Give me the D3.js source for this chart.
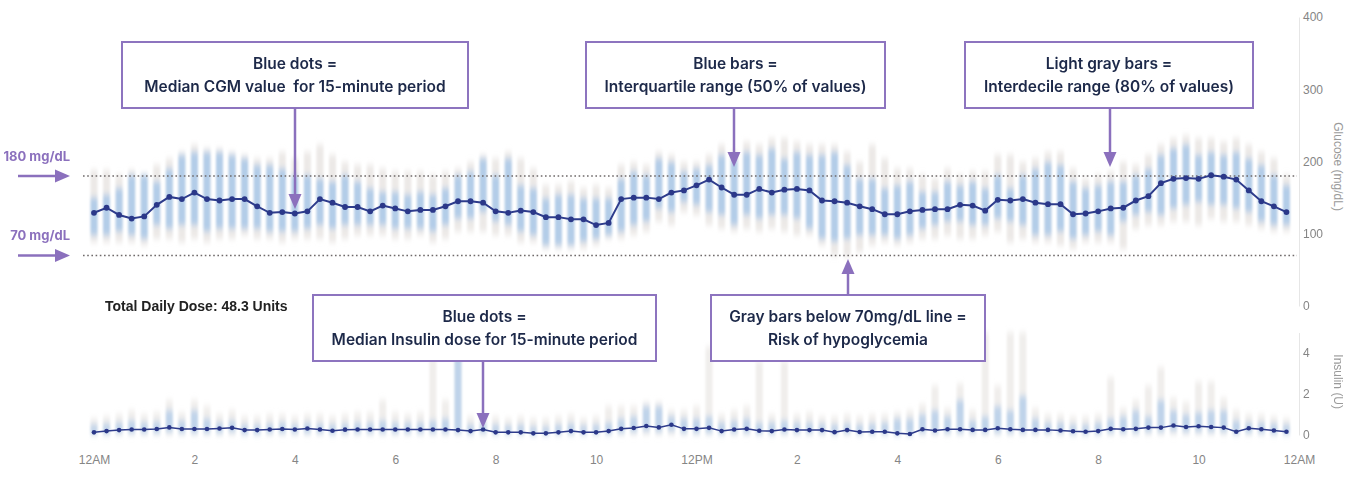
<!DOCTYPE html>
<html lang="en">
<head>
<meta charset="UTF-8">
<title>Ambulatory Glucose Profile</title>
<script src="https://d3js.org/d3.v7.min.js"></script>
<style>
    body {
    margin: 0;
    background-color: white;
    }
    .tick text {
    font-family: "Liberation Sans", Arial, sans-serif;
    font-size: 12px;
    fill: #858585;
    }
    .axis-title {
    font-family: "Liberation Sans", Arial, sans-serif;
    font-size: 12px;
    fill: #9a9a9a;
    }
    .note {
    font-family: Inter, "Noto Sans", sans-serif;
    font-size: 15.5px;
    font-weight: 600;
    fill: #1d2949;
    white-space: pre;
    }
    .side-label {
    font-family: Inter, "Noto Sans", sans-serif;
    font-size: 13px;
    font-weight: 700;
    fill: #8b70bd;
    }
    .dose {
    font-family: "Liberation Sans", Arial, sans-serif;
    font-size: 14px;
    font-weight: bold;
    fill: #222;
    }
</style>
</head>
<body>
<svg id="agp" width="1349" height="490"></svg>
<script>
    const width = 1349;
    const height = 490;

    // 96 fifteen-minute periods of the day
    const periods = d3.range(96).map(i => i / 4);

    const xTicks = [0, 2, 4, 6, 8, 10, 12, 14, 16, 18, 20, 22, 24];
    const xTickLabels = ["12AM", "2", "4", "6", "8", "10", "12PM", "2", "4", "6", "8", "10", "12AM"];
    const glucoseTicks = [0, 100, 200, 300, 400];
    const insulinTicks = [0, 2, 4];
    const targetLines = [180, 70];

    // glucose (mg/dL)
    const glucoseMedian = [129,136,126,121,124,140,151,148,157,148, 146,148,148,138,129,130,128,131,148,143,
      137,137,131,139,135,131,133,133,138,145, 145,143,131,129,132,130,123,123,120,120,
      112,115,148,150,150,148,157,160,167,175, 164,154,154,162,157,161,162,160,146,145,
      143,138,134,127,127,131,133,134,134,140, 139,132,147,146,148,143,141,141,127,128,
      131,135,136,146,152,170,176,177,176,181, 179,175,160,145,138,130];
    const glucoseQ75 = [150,154,163,181,181,172,190,209,213,213, 213,209,204,195,195,190,181,181,176,172,
      181,172,163,158,158,154,158,154,163,181, 186,204,181,204,167,163,149,154,154,149,
      149,149,176,186,181,204,199,186,190,195, 209,204,213,209,218,204,213,209,209,213,
      195,176,176,163,167,172,158,158,172,167, 172,163,181,163,181,190,199,195,172,163,
      167,172,172,181,190,209,218,223,209,213, 209,213,204,195,181,167];
    const glucoseQ25 = [98,98,103,98,93,112,107,112,112,103, 107,107,107,107,103,103,103,107,112,107,
      112,112,112,112,107,107,107,103,112,121, 121,130,117,112,103,98,84,84,84,89,
      93,98,103,112,117,135,130,144,140,130, 126,112,126,121,126,126,121,107,93,89,
      93,98,98,98,93,98,107,112,117,117, 112,112,121,117,112,98,98,103,93,98,
      103,98,117,126,130,126,135,140,144,140, 140,135,130,117,112,112];
    const glucoseP90 = [188,188,181,188,183,195,204,213,223,218, 218,213,209,204,204,213,204,213,223,209,
      199,195,195,190,186,186,186,181,186,190, 199,209,204,213,204,190,167,167,172,163,
      167,163,195,199,195,213,209,199,199,209, 223,213,227,223,232,232,227,223,223,223,
      213,199,223,204,190,190,181,176,190,181, 186,186,209,209,199,204,213,213,190,176,
      181,186,199,195,209,223,232,236,232,232, 227,232,223,213,204,181];
    const glucoseP10 = [88,88,88,88,84,93,93,88,93,88, 93,93,98,93,93,88,93,93,93,88,
      93,98,98,98,93,93,98,88,93,103, 103,103,98,98,88,88,79,79,79,79,
      84,93,93,98,103,117,112,130,126,112, 107,103,107,103,107,103,98,98,84,70,
      68,75,84,88,84,88,93,93,98,93, 93,98,103,88,93,88,88,84,79,88,
      88,88,79,107,112,112,117,117,112,121, 117,117,112,107,103,103];

    // insulin (U)
    const insulinMedian = [0.13,0.19,0.24,0.27,0.27,0.29,0.37,0.29,0.29,0.29, 0.32,0.35,0.24,0.24,0.27,0.29,0.27,0.32,0.27,0.21,
      0.26,0.27,0.27,0.27,0.27,0.27,0.27,0.27,0.27,0.24, 0.19,0.27,0.13,0.13,0.13,0.08,0.08,0.13,0.19,0.13,
      0.13,0.19,0.30,0.34,0.44,0.37,0.50,0.30,0.30,0.35, 0.19,0.27,0.30,0.21,0.19,0.27,0.24,0.24,0.24,0.14,
      0.24,0.15,0.16,0.16,0.08,0.05,0.28,0.22,0.28,0.28, 0.25,0.25,0.33,0.28,0.25,0.25,0.25,0.22,0.18,0.16,
      0.19,0.30,0.28,0.30,0.36,0.36,0.46,0.39,0.43,0.39, 0.36,0.16,0.33,0.28,0.22,0.16];
    const insulinQ75 = [0.5,0.55,0.6,0.7,0.6,0.65,1.2,0.7,1.2,0.8, 0.6,0.7,0.5,0.5,0.55,0.6,0.5,0.6,0.55,0.5,
      0.55,0.6,0.6,0.7,0.6,0.6,0.6,0.7,0.8,4.2, 0.5,0.6,0.5,0.45,0.5,0.4,0.4,0.5,0.55,0.45,
      0.5,0.6,0.8,0.9,1.4,1.4,0.9,0.8,0.8,0.9, 0.6,0.7,0.8,0.6,0.6,0.7,0.6,0.6,0.55,0.5,
      0.55,0.5,0.55,0.6,0.8,0.8,1.0,1.2,0.9,1.7, 0.7,0.9,1.4,1.2,1.9,0.8,0.6,0.6,0.5,0.5,
      0.6,0.8,0.9,1.2,0.9,1.7,1.2,1.0,1.1,1.2, 1.2,0.7,0.6,0.6,0.55,0.5];
    const insulinQ25 = [0.05,0.05,0.1,0.1,0.1,0.1,0.15,0.1,0.1,0.1, 0.1,0.15,0.05,0.05,0.1,0.1,0.1,0.1,0.1,0.05,
      0.1,0.1,0.1,0.1,0.1,0.1,0.1,0.1,0.1,0.1, 0.05,0.1,0.05,0.05,0.05,0,0,0.05,0.05,0.05,
      0.05,0.05,0.1,0.15,0.2,0.15,0.2,0.1,0.1,0.1, 0.05,0.1,0.1,0.05,0.05,0.1,0.1,0.1,0.1,0.05,
      0.1,0.05,0.05,0.05,0,0,0.1,0.1,0.1,0.1, 0.1,0.1,0.1,0.1,0.1,0.1,0.1,0.1,0.05,0.05,
      0.05,0.1,0.1,0.1,0.15,0.15,0.2,0.15,0.15,0.15, 0.15,0.05,0.1,0.1,0.05,0.05];
    const insulinP90 = [0.8,0.9,1.0,1.2,1.0,1.1,1.7,1.1,1.7,1.4, 1.0,1.2,0.9,0.9,1.0,1.0,0.9,1.0,1.0,0.9,
      1.0,1.1,1.1,1.7,1.1,1.0,1.1,3.8,1.7,5.0, 0.9,1.0,0.9,0.8,0.9,0.8,0.8,0.9,1.0,0.8,
      0.9,1.4,1.4,1.4,1.6,1.6,1.2,1.2,1.4,4.3, 1.0,1.2,1.4,3.6,1.0,3.6,1.0,1.1,0.9,0.9,
      1.0,0.9,1.0,1.0,1.1,1.2,1.5,2.4,1.3,2.5, 1.2,5.0,2.4,5.0,5.0,1.3,1.0,1.0,0.9,0.9,
      1.0,2.8,1.3,1.7,2.4,3.3,1.8,1.6,2.6,2.6, 1.8,1.2,1.0,1.0,0.9,0.8];
    const insulinP10 = [0,0,0,0,0,0,0,0,0,0, 0,0,0,0,0,0,0,0,0,0,
      0,0,0,0,0,0,0,0,0,0, 0,0,0,0,0,0,0,0,0,0,
      0,0,0,0,0,0,0,0,0,0, 0,0,0,0,0,0,0,0,0,0,
      0,0,0,0,0,0,0,0,0,0, 0,0,0,0,0,0,0,0,0,0,
      0,0,0,0,0,0,0,0,0,0, 0,0,0,0,0,0];

    const totalDose = "Total Daily Dose: 48.3 Units";

    const notes = [
      {x: 122, y: 42, w: 346, h: 66, lines: ["Blue dots =", "Median CGM value  for 15-minute period"], ax: 295, ay0: 108, ay1: 209},
      {x: 586, y: 42, w: 299, h: 66, lines: ["Blue bars =", "Interquartile range (50% of values)"], ax: 734, ay0: 108, ay1: 167},
      {x: 965, y: 42, w: 288, h: 66, lines: ["Light gray bars =", "Interdecile range (80% of values)"], ax: 1110, ay0: 108, ay1: 167},
      {x: 313, y: 295, w: 343, h: 66, lines: ["Blue dots =", "Median Insulin dose for 15-minute period"], ax: 483, ay0: 361, ay1: 428},
      {x: 711, y: 295, w: 274, h: 66, lines: ["Gray bars below 70mg/dL line =", "Risk of hypoglycemia"], ax: 848, ay0: 295, ay1: 259}
    ];

    const svg = d3.select("#agp")
                .attr("width", width)
                .attr("height", height);

    const x = d3.scaleLinear().domain([0, 24]).range([94, 1299]);
    const yG = d3.scaleLinear().domain([0, 400]).range([306, 17]);
    const yI = d3.scaleLinear().domain([0, 5]).range([435, 332.5]);

    const defs = svg.append("defs");
    defs.append("filter").attr("id", "soft")
      .attr("x", "-50%").attr("y", "-50%").attr("width", "200%").attr("height", "200%")
      .append("feGaussianBlur").attr("stdDeviation", "1.1 3");

    const barW = 7;

    // Draw percentile bars for one panel
    function drawBars(y, lo10, hi90, lo25, hi75, grayOpacity, blueOpacity) {
      const top = v => y(Math.min(v, y.domain()[1]));
      const g = svg.append("g").attr("filter", "url(#soft)");
      g.selectAll(".decile")
        .data(periods)
        .enter()
        .append("rect")
        .attr("x", d => x(d) - barW / 2)
        .attr("y", (d, i) => top(hi90[i]))
        .attr("width", barW)
        .attr("height", (d, i) => y(lo10[i]) - top(hi90[i]))
        .attr("fill", "#e6e2df")
        .attr("opacity", grayOpacity);
      g.selectAll(".iqr")
        .data(periods)
        .enter()
        .append("rect")
        .attr("x", d => x(d) - barW / 2)
        .attr("y", (d, i) => top(hi75[i]))
        .attr("width", barW)
        .attr("height", (d, i) => y(lo25[i]) - top(hi75[i]))
        .attr("fill", "#a5c5e8")
        .attr("opacity", blueOpacity);
    }

    function drawMedian(y, values, r, w) {
      svg.append("path")
        .datum(values)
        .attr("fill", "none")
        .attr("stroke", "#2e3c8c")
        .attr("stroke-width", w)
        .attr("d", d3.line().x((d, i) => x(periods[i])).y(d => y(d)));
      svg.append("g").selectAll("circle")
        .data(values)
        .enter()
        .append("circle")
        .attr("cx", (d, i) => x(periods[i]))
        .attr("cy", d => y(d))
        .attr("r", r)
        .attr("fill", "#2b3889");
    }

    drawBars(yG, glucoseP10, glucoseP90, glucoseQ25, glucoseQ75, 0.75, 0.8);
    drawBars(yI, insulinP10, insulinP90, insulinQ25, insulinQ75, 0.6, 0.65);

    // target range lines
    svg.selectAll(".target")
      .data(targetLines)
      .enter()
      .append("line")
      .attr("x1", 83)
      .attr("x2", 1297)
      .attr("y1", d => yG(d))
      .attr("y2", d => yG(d))
      .attr("stroke", "#6f6a6a")
      .attr("stroke-width", 1.6)
      .attr("stroke-dasharray", "1.6,2.6");

    drawMedian(yG, glucoseMedian, 2.9, 2);
    drawMedian(yI, insulinMedian, 2.3, 1.5);

    // Axes
    const gAxis = svg.append("g")
      .attr("transform", `translate(${x(24)},0)`)
      .call(d3.axisRight(yG).tickValues(glucoseTicks).tickSize(0).tickPadding(4));
    const iAxis = svg.append("g")
      .attr("transform", `translate(${x(24)},0)`)
      .call(d3.axisRight(yI).tickValues(insulinTicks).tickFormat(d3.format("d")).tickSize(0).tickPadding(4));
    [gAxis, iAxis].forEach(a => {
      a.select(".domain").attr("stroke", "#e6e6e6");
      a.selectAll(".tick text").attr("font-family", null).attr("font-size", null).attr("fill", null);
    });

    const xAxis = svg.append("g")
      .attr("transform", "translate(0,455)")
      .call(d3.axisBottom(x).tickValues(xTicks).tickFormat((d, i) => xTickLabels[i]).tickSize(0).tickPadding(0));
    xAxis.select(".domain").remove();
    xAxis.selectAll(".tick text").attr("font-family", null).attr("font-size", null).attr("fill", null);

    svg.append("text")
      .attr("class", "axis-title")
      .attr("transform", `translate(1334,${yG(193)}) rotate(90)`)
      .attr("text-anchor", "middle")
      .text("Glucose (mg/dL)");
    svg.append("text")
      .attr("class", "axis-title")
      .attr("transform", `translate(1334,${yI(2.6)}) rotate(90)`)
      .attr("text-anchor", "middle")
      .text("Insulin (U)");

    svg.append("text")
      .attr("class", "dose")
      .attr("x", 105)
      .attr("y", 311)
      .text(totalDose);

    // Left-hand target labels with arrows
    const arrowColor = "#8b70bd";
    targetLines.forEach(v => {
      const yy = yG(v);
      svg.append("text")
        .attr("class", "side-label")
        .attr("x", 70)
        .attr("y", yy - 15)
        .attr("text-anchor", "end")
        .text(v + " mg/dL");
      svg.append("line")
        .attr("x1", 18).attr("x2", 58)
        .attr("y1", yy).attr("y2", yy)
        .attr("stroke", arrowColor).attr("stroke-width", 2.5);
      svg.append("path")
        .attr("d", `M70,${yy}L55,${yy - 6.5}L55,${yy + 6.5}Z`)
        .attr("fill", arrowColor);
    });

    // Annotation boxes
    notes.forEach(n => {
      svg.append("rect")
        .attr("x", n.x).attr("y", n.y)
        .attr("width", n.w).attr("height", n.h)
        .attr("fill", "white")
        .attr("stroke", "#8d74bf")
        .attr("stroke-width", 2);
      n.lines.forEach((t, j) => {
        svg.append("text")
          .attr("class", "note")
          .attr("x", n.x + n.w / 2)
          .attr("y", n.y + n.h / 2 + (j === 0 ? -11.5 : 11.5))
          .attr("dy", "0.35em")
          .attr("text-anchor", "middle")
          .text(t);
      });
      const dir = n.ay1 > n.ay0 ? 1 : -1;
      const headLen = 15;
      svg.append("line")
        .attr("x1", n.ax).attr("x2", n.ax)
        .attr("y1", n.ay0).attr("y2", n.ay1 - dir * headLen)
        .attr("stroke", arrowColor).attr("stroke-width", 2.5);
      svg.append("path")
        .attr("d", `M${n.ax},${n.ay1}L${n.ax - 6.5},${n.ay1 - dir * headLen}L${n.ax + 6.5},${n.ay1 - dir * headLen}Z`)
        .attr("fill", arrowColor);
    });
</script>
</body>
</html>
